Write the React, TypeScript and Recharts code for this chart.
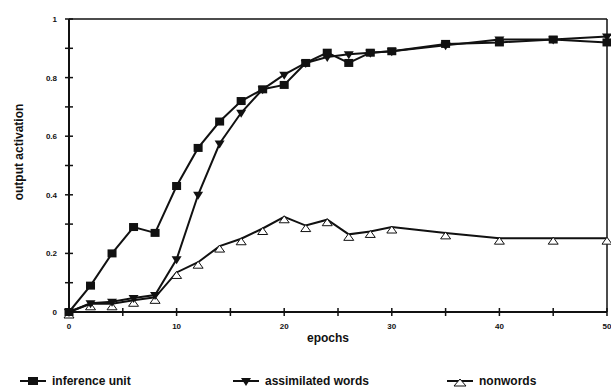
import React from 'react';
import { LineChart, Line, XAxis, YAxis, ReferenceLine } from 'recharts';

const epochs = [0, 2, 4, 6, 8, 10, 12, 14, 16, 18, 20, 22, 24, 26, 28, 30, 35, 40, 45, 50];
const inferenceUnit = [0, 0.09, 0.2, 0.29, 0.27, 0.43, 0.56, 0.65, 0.72, 0.76, 0.775, 0.85, 0.885, 0.85, 0.885, 0.89, 0.915, 0.92, 0.93, 0.92];
const assimilatedWords = [0, 0.03, 0.035, 0.048, 0.058, 0.18, 0.4, 0.575, 0.68, 0.76, 0.81, 0.85, 0.87, 0.88, 0.885, 0.89, 0.91, 0.93, 0.93, 0.94];
const nonwords = [0, 0.028, 0.028, 0.04, 0.05, 0.135, 0.17, 0.225, 0.25, 0.285, 0.325, 0.295, 0.315, 0.265, 0.275, 0.29, 0.27, 0.252, 0.252, 0.252];
const xTicks = [0, 5, 10, 15, 20, 25, 30, 35, 40, 45, 50];
const yTicks = [0, 0.1, 0.2, 0.3, 0.4, 0.5, 0.6, 0.7, 0.8, 0.9, 1];

const data = epochs.map((e, i) => ({
  epoch: e,
  inference: inferenceUnit[i],
  assimilated: assimilatedWords[i],
  nonwords: nonwords[i],
}));

const INK = '#111';
const FONT = 'Arial, "Liberation Sans", sans-serif';

const Square = ({ cx, cy }: any) => (
  <rect x={cx - 4.5} y={cy - 4} width={9} height={8} fill={INK} />
);
const DownTri = ({ cx, cy }: any) => (
  <path d={`M${cx - 5},${cy - 3} L${cx + 5},${cy - 3} L${cx},${cy + 5} Z`} fill={INK} />
);
const UpTri = ({ cx, cy }: any) => (
  <path d={`M${cx},${cy - 1} L${cx + 5},${cy + 6} L${cx - 5},${cy + 6} Z`} fill="#fff" stroke={INK} strokeWidth={1} />
);

const XTick = ({ x, y, payload }: any) => {
  const major = payload.value % 10 === 0;
  return (
    <g>
      <line x1={x} x2={x} y1={y - 4} y2={y + 4} stroke={INK} strokeWidth={1.5} />
      {major && (
        <text x={x} y={y + 17} textAnchor="middle" fontSize={8} fontWeight="bold" fill={INK} fontFamily={FONT}>
          {payload.value}
        </text>
      )}
    </g>
  );
};

const YTick = ({ x, y, payload }: any) => {
  const major = Math.round(payload.value * 10) % 2 === 0;
  return (
    <g>
      <line x1={x - 4} x2={x + 4} y1={y} y2={y} stroke={INK} strokeWidth={1.5} />
      {major && (
        <text x={x - 12} y={y + 3} textAnchor="end" fontSize={8} fontWeight="bold" fill={INK} fontFamily={FONT}>
          {Math.round(payload.value * 10) / 10}
        </text>
      )}
    </g>
  );
};

function LegendItem({ left, label, marker }: { left: number; label: string; marker: React.ReactNode }) {
  return (
    <div style={{ position: 'absolute', left, top: 372, height: 18, display: 'flex', alignItems: 'center' }}>
      <svg width={26} height={14} style={{ marginRight: 6 }}>
        <line x1={0} x2={26} y1={7} y2={7} stroke={INK} strokeWidth={2} />
        {marker}
      </svg>
      <span style={{ fontSize: 12, fontWeight: 'bold', color: INK, fontFamily: FONT }}>{label}</span>
    </div>
  );
}

export default function App() {
  return (
    <div style={{ position: 'absolute', left: 0, top: 0, width: 611, height: 391, background: '#fff' }}>
      <LineChart width={611} height={391} data={data} margin={{ top: 19, right: 4, left: 0, bottom: 59 }}>
        <XAxis
          dataKey="epoch"
          type="number"
          domain={[0, 50]}
          ticks={xTicks}
          tick={<XTick />}
          tickSize={0}
          tickMargin={0}
          tickLine={false}
          height={20}
          stroke={INK}
          strokeWidth={2}
          interval={0}
          label={{
            content: () => (
              <text x={328} y={342} textAnchor="middle" fontSize={12} fontWeight="bold" fill={INK} fontFamily={FONT}>
                epochs
              </text>
            ),
          }}
        />
        <YAxis
          type="number"
          domain={[0, 1]}
          ticks={yTicks}
          tick={<YTick />}
          tickSize={0}
          tickMargin={0}
          tickLine={false}
          width={69}
          stroke={INK}
          strokeWidth={2}
          interval={0}
          label={{
            content: () => (
              <text
                x={23}
                y={152}
                transform="rotate(-90 23 152)"
                textAnchor="middle"
                fontSize={12}
                fontWeight="bold"
                fill={INK}
                fontFamily={FONT}
              >
                output activation
              </text>
            ),
          }}
        />
        <ReferenceLine y={1} stroke={INK} strokeWidth={1.5} />
        <ReferenceLine x={50} stroke={INK} strokeWidth={1.5} />
        <Line dataKey="nonwords" stroke={INK} strokeWidth={2} dot={<UpTri />} isAnimationActive={false} />
        <Line dataKey="assimilated" stroke={INK} strokeWidth={2} dot={<DownTri />} isAnimationActive={false} />
        <Line dataKey="inference" stroke={INK} strokeWidth={2} dot={<Square />} isAnimationActive={false} />
      </LineChart>
      <LegendItem
        left={20}
        label="inference unit"
        marker={<rect x={8} y={3} width={10} height={8} fill={INK} />}
      />
      <LegendItem
        left={233}
        label="assimilated words"
        marker={<path d="M8,4 L18,4 L13,12 Z" fill={INK} />}
      />
      <LegendItem
        left={447}
        label="nonwords"
        marker={<path d="M13,5 L19,12 L7,12 Z" fill="#fff" stroke={INK} strokeWidth={1} />}
      />
    </div>
  );
}
